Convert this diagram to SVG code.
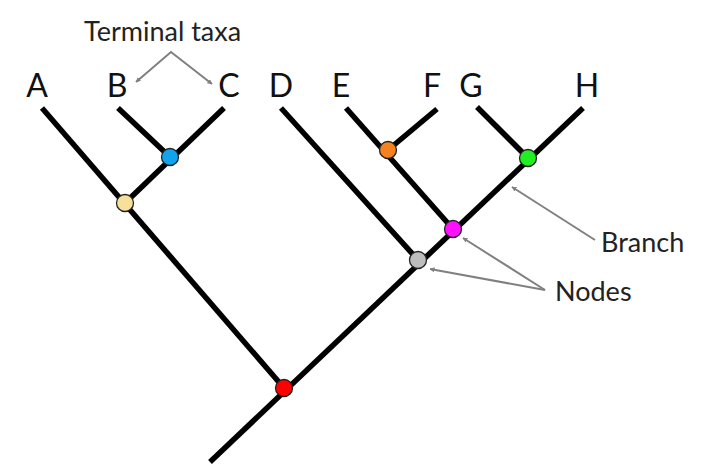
<svg xmlns="http://www.w3.org/2000/svg" width="720" height="472" viewBox="0 0 720 472">
<defs>
<marker id="ah" viewBox="0 0 10 10" refX="9" refY="5" markerWidth="5" markerHeight="5" orient="auto-start-reverse" markerUnits="userSpaceOnUse">
<path d="M0,0 L10,5 L0,10 z" fill="#808080"/>
</marker>
<style>
.br{stroke:#000;stroke-width:5.5;stroke-linecap:butt;fill:none}
.nd{stroke:#222;stroke-width:1.3}
.lbl{font-family:Lato,"Open Sans",sans-serif;font-size:32px;fill:#111;text-anchor:middle}
.ann{font-family:Lato,"Open Sans",sans-serif;font-size:27px;fill:#222}
.ar{stroke:#808080;stroke-width:2;fill:none}
</style>
</defs>
<rect width="720" height="472" fill="#fff"/>
<g id="connectors">
<line class="br" x1="42" y1="108" x2="284" y2="388"/>
<line class="br" x1="210" y1="462" x2="583" y2="108"/>
<line class="br" x1="118" y1="108" x2="170" y2="157"/>
<line class="br" x1="224" y1="108" x2="125" y2="203"/>
<line class="br" x1="281" y1="108" x2="418" y2="260"/>
<line class="br" x1="346" y1="108" x2="453" y2="229"/>
<line class="br" x1="437" y1="109" x2="388" y2="150"/>
<line class="br" x1="477" y1="107" x2="528" y2="158"/>
</g>
<g id="annotations">
<polyline class="ar" points="136,82 171,52 212,84" marker-start="url(#ah)" marker-end="url(#ah)"/>
<line class="ar" x1="595" y1="240" x2="512" y2="187" marker-end="url(#ah)"/>
<line class="ar" x1="545" y1="290" x2="463" y2="238" marker-end="url(#ah)"/>
<line class="ar" x1="545" y1="290" x2="430" y2="269" marker-end="url(#ah)"/>
<text class="ann" x="84" y="41">Terminal taxa</text>
<text class="ann" x="601" y="252">Branch</text>
<text class="ann" x="555" y="301">Nodes</text>
</g>
<g id="node-root"><circle class="nd" cx="284" cy="388" r="8.5" fill="#ff0000"/></g>
<g id="node-ABC"><circle class="nd" cx="125" cy="203" r="8.5" fill="#f9e09a"/></g>
<g id="node-BC"><circle class="nd" cx="170" cy="157" r="8.5" fill="#12a4ea"/></g>
<g id="node-DH"><circle class="nd" cx="418" cy="260" r="8.5" fill="#bdbdbd"/></g>
<g id="node-EH"><circle class="nd" cx="453" cy="229" r="8.5" fill="#ff10ff"/></g>
<g id="node-EF"><circle class="nd" cx="388" cy="150" r="8.5" fill="#f5821f"/></g>
<g id="node-GH"><circle class="nd" cx="528" cy="158" r="8.5" fill="#22ee22"/></g>
<g id="taxa">
<text class="lbl" x="37" y="97">A</text>
<text class="lbl" x="117" y="97">B</text>
<text class="lbl" x="229" y="97">C</text>
<text class="lbl" x="281" y="97">D</text>
<text class="lbl" x="341" y="97">E</text>
<text class="lbl" x="432" y="97">F</text>
<text class="lbl" x="471" y="97">G</text>
<text class="lbl" x="587" y="97">H</text>
</g>
</svg>
